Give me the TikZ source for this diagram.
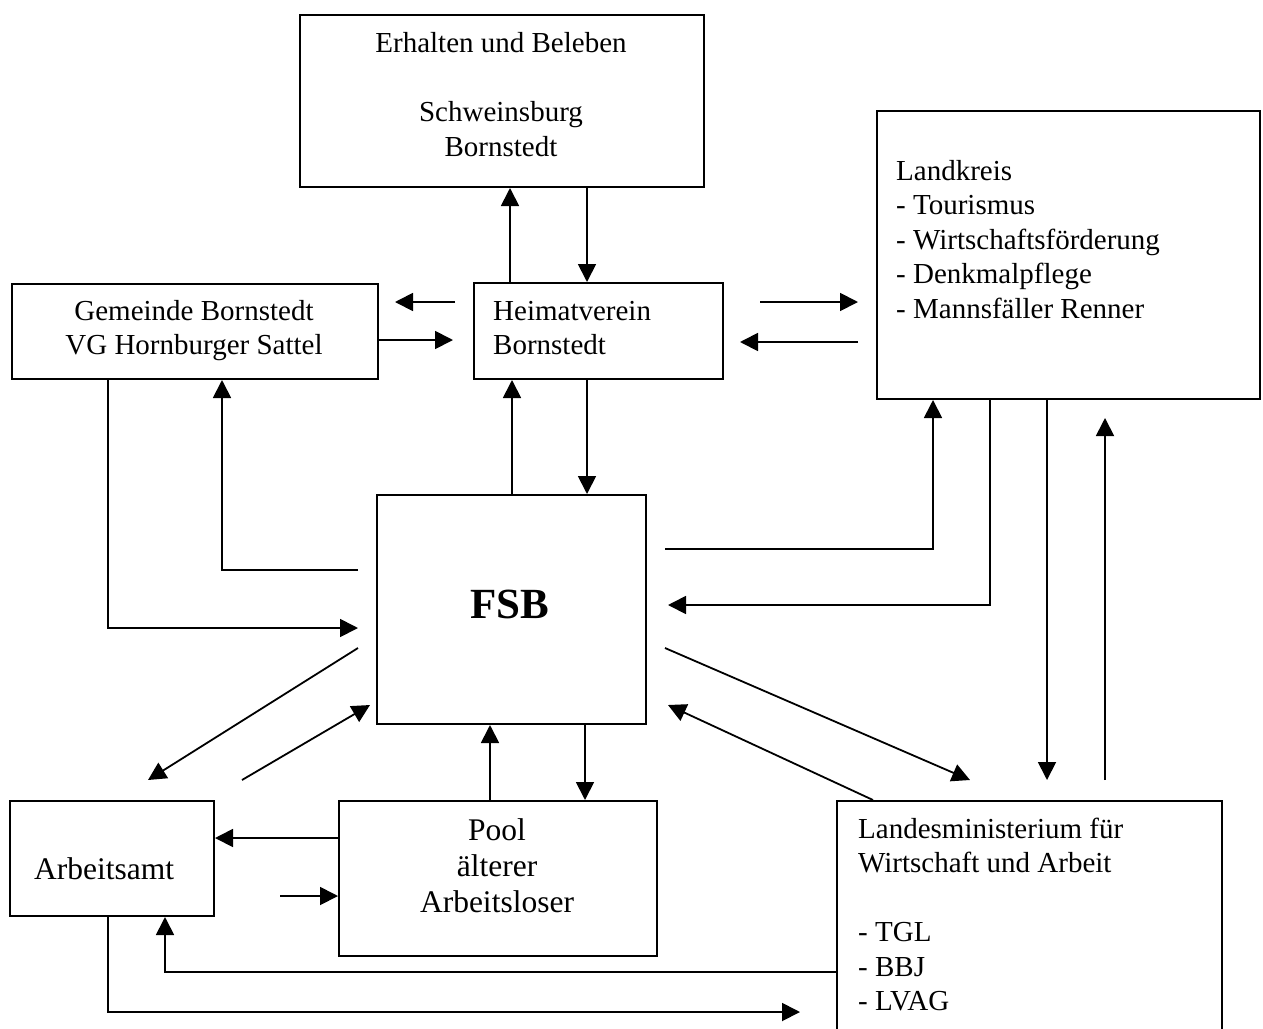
\documentclass[tikz,border=0pt]{standalone}
\usepackage{fontspec}
\setmainfont{Liberation Serif}
\usetikzlibrary{arrows.meta,calc}
\tikzset{
  box/.style={draw, line width=2pt, inner sep=0pt, anchor=north west},
  conn/.style={line width=1.8pt, -{Triangle[length=18pt,width=18pt]}},
  txt/.style={inner sep=0pt, font=\fontsize{29}{34.5}\selectfont},
  bigtxt/.style={inner sep=0pt, font=\fontsize{31.5}{36}\selectfont},
}
\begin{document}
\begin{tikzpicture}[x=1pt,y=-1pt]
\useasboundingbox (0,0) rectangle (1263,1028);
\clip (0,0) rectangle (1263,1028);
\fill[white] (0,0) rectangle (1263,1028);

% boxes
\node[box, minimum width=404pt, minimum height=172pt] (top) at (299,14) {};
\node[box, minimum width=366pt, minimum height=95pt] (gem) at (11,283) {};
\node[box, minimum width=249pt, minimum height=96pt] (heim) at (473,282) {};
\node[box, minimum width=383pt, minimum height=288pt] (land) at (876,110) {};
\node[box, minimum width=269pt, minimum height=229pt] (fsb) at (376,494) {};
\node[box, minimum width=204pt, minimum height=115pt] (amt) at (9,800) {};
\node[box, minimum width=318pt, minimum height=155pt] (pool) at (338,800) {};
\node[box, minimum width=385pt, minimum height=260pt] (min) at (836,800) {};

% texts
\node[txt, anchor=north, align=center] (ttop) at (501,28.2)
  {\strut Erhalten und Beleben\\[34.5pt]Schweinsburg\\Bornstedt};
\node[txt, anchor=north, align=center] (tgem) at (194,296)
  {\strut Gemeinde Bornstedt\\VG Hornburger Sattel};
\node[txt, anchor=north west, align=left] (theim) at (493,296)
  {\strut Heimatverein\\Bornstedt};
\node[txt, anchor=north west, align=left] (tland) at (896,156)
  {\strut Landkreis\\- Tourismus\\- Wirtschaftsförderung\\- Denkmalpflege\\- Mannsfäller Renner};
\node[inner sep=0pt, font=\fontsize{43}{50}\selectfont\bfseries, anchor=base] (tfsb) at (510,618) {FSB};
\node[bigtxt, anchor=base west] (tamt) at (34,879) {Arbeitsamt};
\node[bigtxt, anchor=north, align=center] (tpool) at (497,815)
  {\strut Pool\\älterer\\Arbeitsloser};
\node[txt, anchor=north west, align=left] (tmin) at (858,814)
  {\strut Landesministerium für\\Wirtschaft und Arbeit\\[34.5pt]- TGL\\- BBJ\\- LVAG};

% free end points
\coordinate (a3s) at (455,302); \coordinate (a3e) at (395,302);
\coordinate (a4e) at (453,340);
\coordinate (a5s) at (760,302); \coordinate (a5e) at (858,302);
\coordinate (a6s) at (858,342); \coordinate (a6e) at (740,342);
\coordinate (c9) at (358,570);
\coordinate (c10) at (358,628);
\coordinate (c11) at (665,549);
\coordinate (c12) at (668,605);
\coordinate (c13) at (1047,780);
\coordinate (c14s) at (1105,780); \coordinate (c14e) at (1105,418);
\coordinate (c15s) at (665,648); \coordinate (c15e) at (970,780);
\coordinate (c16e) at (668,705);
\coordinate (c17s) at (358,648); \coordinate (c17e) at (148,780);
\coordinate (c18s) at (242,780); \coordinate (c18e) at (370,705);
\coordinate (c22s) at (280,896);
\coordinate (c24) at (800,1012);

% connectors
\draw[conn] ($(heim.north west)+(37,0)$) -- ($(top.south west)+(211,0)$);
\draw[conn] ($(top.south west)+(288,0)$) -- ($(heim.north west)+(114,0)$);
\draw[conn] (a3s) -- (a3e);
\draw[conn] ($(gem.north east)+(0,57)$) -- (a4e);
\draw[conn] (a5s) -- (a5e);
\draw[conn] (a6s) -- (a6e);
\draw[conn] ($(fsb.north west)+(136,0)$) -- ($(heim.south west)+(39,0)$);
\draw[conn] ($(heim.south west)+(114,0)$) -- ($(fsb.north west)+(211,0)$);
\draw[conn] (c9) -| ($(gem.south west)+(211,0)$);
\draw[conn] ($(gem.south west)+(97,0)$) |- (c10);
\draw[conn] (c11) -| ($(land.south west)+(57,0)$);
\draw[conn] ($(land.south west)+(114,0)$) |- (c12);
\draw[conn] ($(land.south west)+(171,0)$) -- (c13);
\draw[conn] (c14s) -- (c14e);
\draw[conn] (c15s) -- (c15e);
\draw[conn] ($(min.north west)+(37,0)$) -- (c16e);
\draw[conn] (c17s) -- (c17e);
\draw[conn] (c18s) -- (c18e);
\draw[conn] ($(pool.north west)+(152,0)$) -- ($(fsb.south west)+(114,0)$);
\draw[conn] ($(fsb.south west)+(209,0)$) -- ($(pool.north west)+(247,0)$);
\draw[conn] ($(pool.north west)+(0,38)$) -- ($(amt.north east)+(0,38)$);
\draw[conn] (c22s) -- ($(pool.north west)+(0,96)$);
\draw[conn] ($(min.north west)+(0,172)$) -| ($(amt.south west)+(156,0)$);
\draw[conn] ($(amt.south west)+(99,0)$) |- (c24);
\end{tikzpicture}
\end{document}
